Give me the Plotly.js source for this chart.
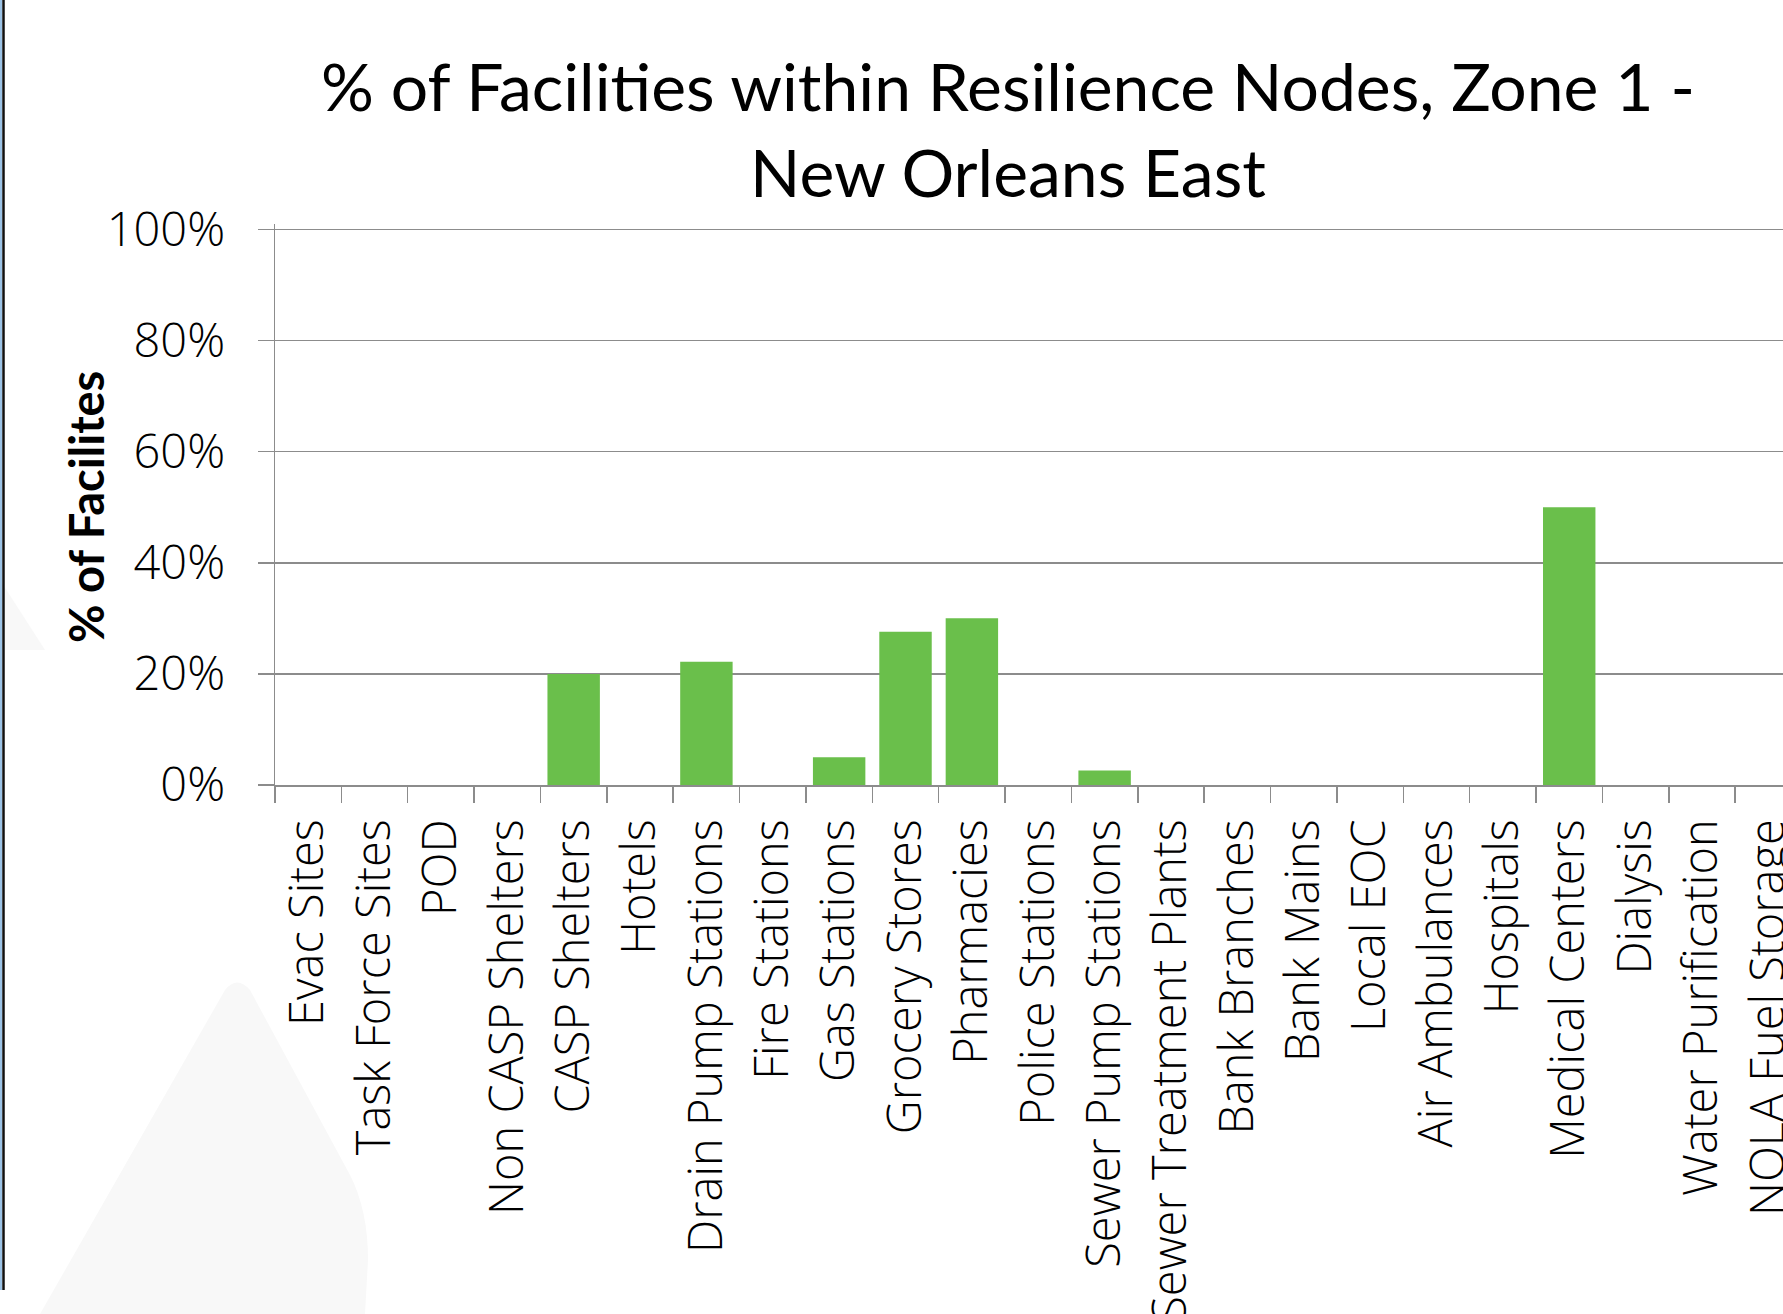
<!DOCTYPE html>
<html>
<head>
<meta charset="utf-8">
<script src="https://cdn.plot.ly/plotly-3.0.1.min.js"></script>
<style>
html,body{margin:0;padding:0;background:#fff;overflow:hidden;}
#chart{width:1783px;height:1314px;}
</style>
</head>
<body>
<div id="chart"></div>
<script>
const categories = [
  "Evac Sites", "Task Force Sites", "POD", "Non CASP Shelters", "CASP Shelters",
  "Hotels", "Drain Pump Stations", "Fire Stations", "Gas Stations", "Grocery Stores",
  "Pharmacies", "Police Stations", "Sewer Pump Stations", "Sewer Treatment Plants",
  "Bank Branches", "Bank Mains", "Local EOC", "Air Ambulances", "Hospitals",
  "Medical Centers", "Dialysis", "Water Purification", "NOLA Fuel Storage"
];
const pctInNodes = [
  0, 0, 0, 0, 20,
  0, 22.2, 0, 5, 27.6,
  30, 0, 2.6, 0,
  0, 0, 0, 0, 0,
  50, 0, 0, 0
];
const yTickVals = [0, 20, 40, 60, 80, 100];
const yTickText = ["0%", "20%", "40%", "60%", "80%", "100%"];

const titleText = "% of Facilities within Resilience Nodes, Zone 1 -<br>New Orleans East";
const yTitleText = "% of Facilites";

const W = 1783, H = 1314;
const mL = 275, mT = 224, mB = 529;
const plotW = W - mL, plotH = H - mT - mB;
const catPx = 66.37;
const xEnd = -0.5 + plotW / catPx;

// convert pixel to paper coords for decorative background shapes / labels
function px(x){ return (x - mL) / plotW; }
function py(y){ return 1 - (y - mT) / plotH; }

const trace = {
  type: "bar",
  x: categories,
  y: pctInNodes,
  marker: {color: "#6abf4b", line: {width: 0}},
  hoverinfo: "x+y"
};

const gridCol = "#8c8c8c";

const layout = {
  width: W, height: H,
  margin: {l: mL, r: 0, t: mT, b: mB, pad: 0},
  paper_bgcolor: "#ffffff",
  plot_bgcolor: "rgba(0,0,0,0)",
  showlegend: false,
  bargap: 0.21,
  font: {family: "Open Sans, sans-serif", color: "#000"},
  title: {
    text: titleText,
    font: {family: "Lato, sans-serif", size: 66, color: "#000"},
    xref: "container", x: 1008 / W, xanchor: "center",
    yref: "container", y: 1 - 111 / H, yanchor: "top"
  },
  xaxis: {
    type: "category",
    range: [-0.5, xEnd],
    tickson: "boundaries",
    ticks: "outside", ticklen: 16, tickwidth: 1.5, tickcolor: gridCol,
    showline: true, linecolor: gridCol, linewidth: 1.5,
    showgrid: false, zeroline: false,
    tickangle: -90,
    tickfont: {family: "Open Sans, sans-serif", size: 47, color: "#000", weight: 300},
    ticklabelstandoff: 14,
    fixedrange: true
  },
  yaxis: {
    range: [0, 101],
    tickvals: yTickVals, ticktext: yTickText,
    ticks: "outside", ticklen: 16, tickwidth: 1.5, tickcolor: gridCol,
    showline: true, linecolor: gridCol, linewidth: 1.5,
    showgrid: true, gridcolor: gridCol, gridwidth: 1.5,
    zeroline: false,
    tickfont: {family: "Open Sans, sans-serif", size: 47, color: "#000", weight: 300},
    ticklabelstandoff: 23,
    fixedrange: true
  },
  annotations: [
    {text: yTitleText, xref: "paper", yref: "paper",
     x: px(86), y: py(507), xanchor: "center", yanchor: "middle",
     textangle: -90, showarrow: false,
     font: {family: "Lato, sans-serif", size: 47, color: "#000", weight: "bold"}}
  ],
  shapes: [
    {type: "path", xref: "paper", yref: "paper", layer: "below",
     path: "M " + px(40) + "," + py(1314) + " L " + px(225) + "," + py(990) +
           " Q " + px(237) + "," + py(975) + " " + px(250) + "," + py(990) +
           " L " + px(350) + "," + py(1175) +
           " Q " + px(368) + "," + py(1210) + " " + px(368) + "," + py(1260) +
           " L " + px(365) + "," + py(1314) + " Z",
     fillcolor: "#f8f8f8", line: {width: 0}},
    {type: "path", xref: "paper", yref: "paper", layer: "below",
     path: "M " + px(0) + "," + py(580) + " L " + px(45) + "," + py(650) +
           " L " + px(0) + "," + py(650) + " Z",
     fillcolor: "#f8f8f8", line: {width: 0}},
    {type: "line", xref: "paper", yref: "paper",
     x0: px(1), x1: px(1), y0: py(0), y1: py(1290),
     line: {color: "#9cc3e6", width: 2}},
    {type: "line", xref: "paper", yref: "paper",
     x0: px(3.5), x1: px(3.5), y0: py(0), y1: py(1290),
     line: {color: "#111111", width: 2.5}}
  ]
};

Plotly.newPlot("chart", [trace], layout, {displayModeBar: false, staticPlot: true});
</script>
</body>
</html>
